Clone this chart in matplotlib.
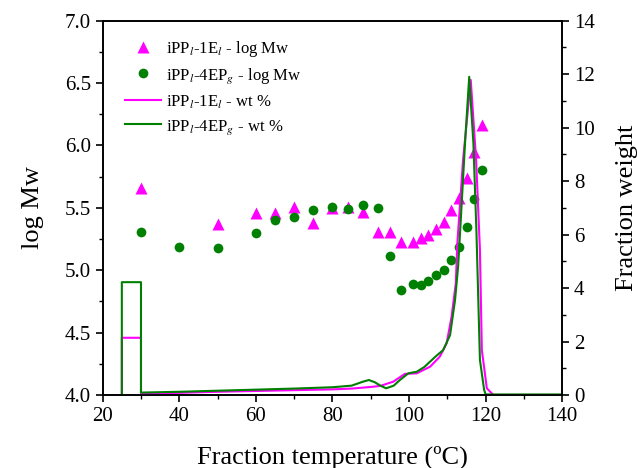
import matplotlib
matplotlib.use("Agg")
import matplotlib.pyplot as plt
from matplotlib.ticker import MultipleLocator, FormatStrFormatter

plt.rcParams['font.family'] = ['Liberation Serif', 'DejaVu Serif']
plt.rcParams['mathtext.fontset'] = 'stix'

# log Mw of the fractions
t_1e = [30, 50, 60, 65, 70, 75, 80, 84, 88, 92, 95, 98, 101, 103, 105, 107,
        109, 111, 113, 115, 117, 119]
mw_1e = [5.66, 5.37, 5.46, 5.46, 5.51, 5.38, 5.50, 5.51, 5.47, 5.31, 5.31,
         5.23, 5.23, 5.26, 5.28, 5.33, 5.39, 5.48, 5.58, 5.74, 5.95, 6.16]

t_4ep = [30, 40, 50, 60, 65, 70, 75, 80, 84, 88, 92, 95, 98, 101, 103, 105,
         107, 109, 111, 113, 115, 117, 119]
mw_4ep = [5.31, 5.19, 5.18, 5.30, 5.40, 5.43, 5.48, 5.51, 5.49, 5.52, 5.50,
          5.11, 4.84, 4.89, 4.88, 4.91, 4.96, 5.00, 5.08, 5.19, 5.35, 5.57, 5.80]

# wt % curves
wt_t_1e = [25, 25, 30, 30, 40, 50, 60, 70, 80, 85, 90, 92.5, 95.9, 98.9, 102,
           105.5, 108, 109.8, 111.1, 112.2, 112.6, 114.1, 116.1, 117.5, 118.5,
           119, 120.3, 122, 140]
wt_1e = [0, 2.14, 2.14, 0.05, 0.08, 0.12, 0.15, 0.18, 0.21, 0.24, 0.30, 0.34,
         0.50, 0.79, 0.81, 1.06, 1.43, 1.93, 2.93, 4.18, 5.67, 8.8, 11.78, 8.8,
         5.42, 1.68, 0.25, 0.0, 0.0]

wt_t_4ep = [25, 25, 30, 30, 40, 50, 60, 70, 80, 85, 88, 89.5, 91, 92.5, 94, 96,
            97.6, 99.8, 102, 104, 105.5, 107, 108.9, 110.7, 112, 112.8, 113.3,
            114.6, 115.7, 116.8, 117.6, 118.5, 119.6, 120, 125, 140]
wt_4ep = [0, 4.22, 4.22, 0.09, 0.12, 0.16, 0.20, 0.24, 0.29, 0.35, 0.50, 0.56,
          0.48, 0.35, 0.25, 0.35, 0.56, 0.81, 0.87, 1.05, 1.25, 1.45, 1.68, 2.24,
          3.55, 4.8, 6.05, 9.4, 11.9, 9.4, 6.05, 1.31, 0.19, 0.02, 0.02, 0.02]

magenta = '#FF00FF'
green = '#008000'

fig = plt.figure(figsize=(6.37, 4.68), dpi=100)
ax1 = fig.add_axes([0.1612, 0.156, 0.7215, 0.7998])
ax2 = ax1.twinx()

h1, = ax1.plot(t_1e, mw_1e, '^', color=magenta, ms=8, mec='none',
               label=r'iPP$_{l}$-1E$_{l}$ - log Mw')
h2, = ax1.plot(t_4ep, mw_4ep, 'o', color=green, ms=7, mec='none',
               label=r'iPP$_{l}$-4EP$_{g}$ - log Mw')
h3, = ax2.plot(wt_t_1e, wt_1e, '-', color=magenta, lw=1.5,
               label=r'iPP$_{l}$-1E$_{l}$ - wt %')
h4, = ax2.plot(wt_t_4ep, wt_4ep, '-', color=green, lw=1.5,
               label=r'iPP$_{l}$-4EP$_{g}$ - wt %')

ax1.set_xlim(20, 140)
ax1.set_ylim(4.0, 7.0)
ax2.set_ylim(0, 14)

ax1.xaxis.set_major_locator(MultipleLocator(20))
ax1.xaxis.set_minor_locator(MultipleLocator(10))
ax1.yaxis.set_major_locator(MultipleLocator(0.5))
ax1.yaxis.set_minor_locator(MultipleLocator(0.25))
ax1.yaxis.set_major_formatter(FormatStrFormatter('%.1f'))
ax2.yaxis.set_major_locator(MultipleLocator(2))
ax2.yaxis.set_minor_locator(MultipleLocator(1))

for ax in (ax1, ax2):
    ax.tick_params(which='major', direction='out', length=5, width=1.2,
                   labelsize=15)
    ax.tick_params(which='minor', direction='out', length=3, width=1)
    for s in ax.spines.values():
        s.set_linewidth(1.2)

ax1.set_xlabel('Fraction temperature (ºC)', fontsize=19, labelpad=14)
ax1.set_ylabel('log Mw', fontsize=19, labelpad=15)
ax2.set_ylabel('Fraction weight', fontsize=19, labelpad=15)

ax2.legend(handles=[h1, h2, h3, h4], loc='upper left',
           bbox_to_anchor=(0.033, 0.97), frameon=False, fontsize=12,
           handlelength=2.2, handletextpad=0.3, labelspacing=0.45,
           borderaxespad=0)

fig.savefig('out.png', dpi=100)
